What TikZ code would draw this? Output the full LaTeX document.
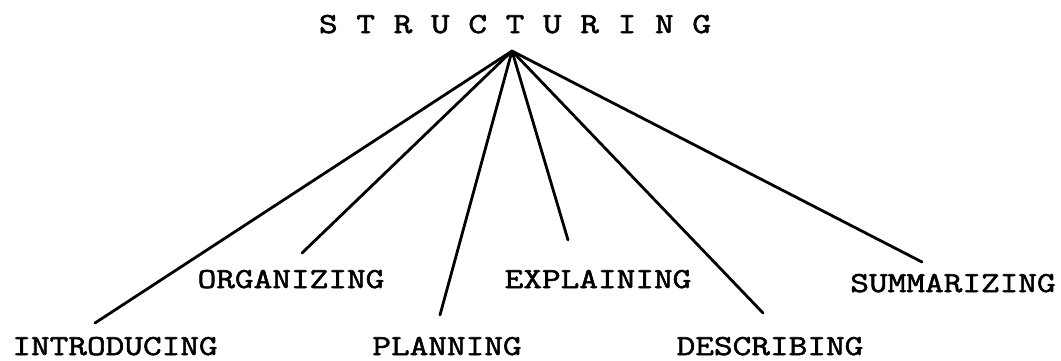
\documentclass[tikz,border=0pt]{standalone}
\usepackage{fontspec}
\setmonofont{Latin Modern Mono}[FakeStretch=1.25,FakeBold=2]
\begin{document}
\begin{tikzpicture}[x=1pt,y=-1pt,
  lbl/.style={font=\ttfamily\fontsize{29}{32}\selectfont, inner sep=0pt, anchor=base},
  branch/.style={line width=2.8pt, line cap=round}]
\useasboundingbox (0,0) rectangle (1061,360);
% root label and the point all branches fan out from
\node[lbl] (root) at (515,33) {S T R U C T U R I N G};
\coordinate (apex) at (512,51);
% leaf labels
\node[lbl] (intro) at (115,355) {INTRODUCING};
\node[lbl] (organ) at (291,288) {ORGANIZING};
\node[lbl] (plan)  at (447,355) {PLANNING};
\node[lbl] (expl)  at (598,288) {EXPLAINING};
\node[lbl] (descr) at (770,355) {DESCRIBING};
\node[lbl] (summ)  at (953,292) {SUMMARIZING};
% branch ends above each label
\coordinate (eintro) at (95,323);
\coordinate (eorgan) at (302,253);
\coordinate (eplan)  at (440,315);
\coordinate (eexpl)  at (568,240);
\coordinate (edescr) at (763,313);
\coordinate (esumm)  at (922,262);
\foreach \e in {eintro,eorgan,eplan,eexpl,edescr,esumm}
  \draw[branch] (apex) -- (\e);
\end{tikzpicture}
\end{document}
